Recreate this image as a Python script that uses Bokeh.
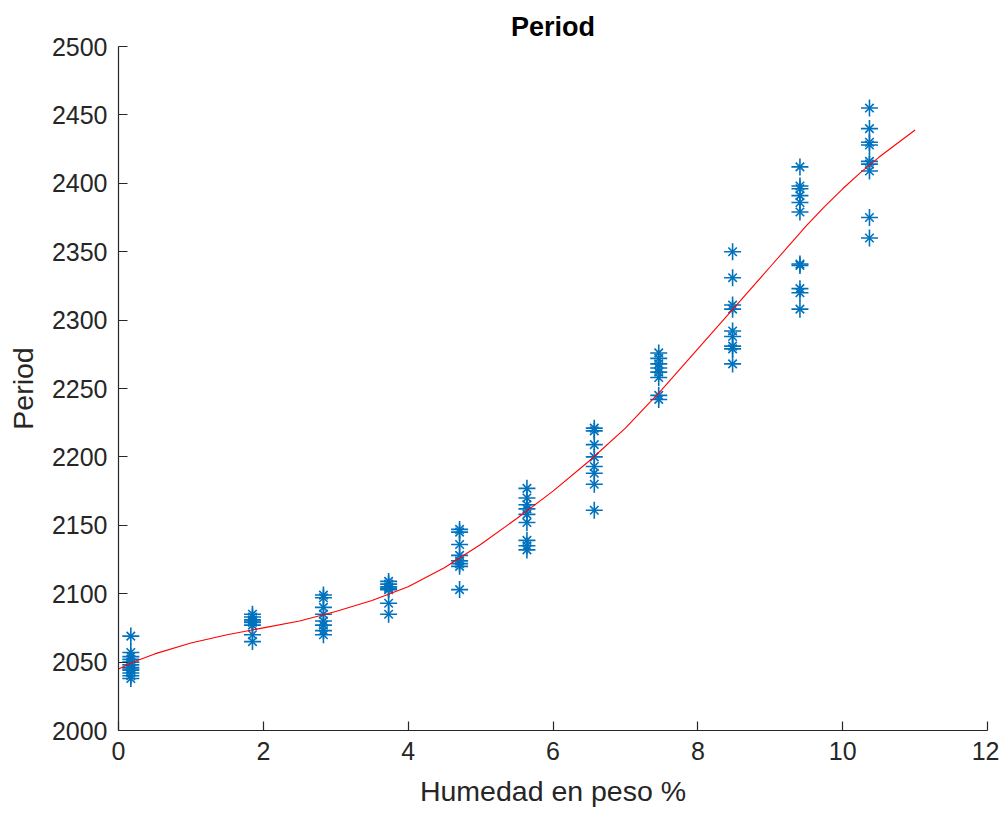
from bokeh.plotting import figure
from bokeh.embed import file_html
from bokeh.resources import INLINE
from bokeh.models import Range1d, FixedTicker

# Measured points (humidity %, period)
x_groups = [0.17, 1.85, 2.83, 3.73, 4.71, 5.64, 6.57, 7.46, 8.48, 9.41, 10.37]
y_groups = [
    [2069, 2057, 2054, 2052, 2050, 2048, 2046, 2044, 2042, 2040, 2038, 2045],
    [2085, 2083, 2081, 2080, 2079, 2077, 2070, 2065],
    [2099, 2097, 2090, 2085, 2080, 2077, 2073, 2070],
    [2109, 2107, 2105, 2104, 2103, 2093, 2085],
    [2147, 2145, 2136, 2128, 2124, 2122, 2120, 2103],
    [2177, 2170, 2165, 2162, 2158, 2152, 2139, 2135, 2132],
    [2221, 2219, 2209, 2200, 2193, 2188, 2180, 2161],
    [2276, 2272, 2268, 2265, 2262, 2258, 2245, 2242],
    [2350, 2331, 2311, 2308, 2292, 2288, 2281, 2279, 2268],
    [2412, 2398, 2396, 2391, 2386, 2379, 2341, 2340, 2323, 2320, 2308],
    [2455, 2440, 2430, 2428, 2416, 2414, 2409, 2375, 2360],
]

# Fitted curve
fit_x = [0, 0.25, 0.5, 1, 1.5, 2, 2.5, 3, 3.5, 4, 4.5, 5, 5.5, 6, 6.5, 7, 7.5, 8,
         8.5, 9, 9.5, 9.75, 10, 10.25, 10.5, 11]
fit_y = [2045, 2051, 2056, 2064, 2070, 2075, 2080, 2087, 2095, 2105, 2119, 2136,
         2155, 2175, 2197, 2221, 2249, 2279, 2309, 2339, 2369, 2383, 2396, 2408,
         2419, 2439]

x_ticks = [0, 2, 4, 6, 8, 10, 12]
y_ticks = [2000, 2050, 2100, 2150, 2200, 2250, 2300, 2350, 2400, 2450, 2500]

px, py = [], []
for xv, ys in zip(x_groups, y_groups):
    for yv in ys:
        px.append(xv)
        py.append(yv)

FONT = "Liberation Sans"
p = figure(width=999, height=812, output_backend="svg", toolbar_location=None,
           x_range=Range1d(0, 12), y_range=Range1d(2000, 2500),
           min_border_left=118, min_border_right=12, min_border_top=46, min_border_bottom=82,
           title="Period")
p.title.align = "center"
p.title.text_font = FONT
p.title.text_font_size = "27px"
p.title.text_font_style = "bold"
p.title.text_color = "#000000"
p.title.offset = 0

p.outline_line_color = None
p.xgrid.visible = False
p.ygrid.visible = False
p.background_fill_color = "white"
p.border_fill_color = "white"

for ax in (p.xaxis[0], p.yaxis[0]):
    ax.axis_line_color = "#262626"
    ax.axis_line_width = 1.2
    ax.major_tick_in = 9
    ax.major_tick_out = 0
    ax.minor_tick_in = 0
    ax.minor_tick_out = 0
    ax.major_tick_line_color = "#262626"
    ax.major_tick_line_width = 1.2
    ax.major_label_text_font = FONT
    ax.major_label_text_font_size = "25px"
    ax.major_label_text_color = "#262626"
    ax.axis_label_text_font = FONT
    ax.axis_label_text_font_size = "28.5px"
    ax.axis_label_text_font_style = "normal"
    ax.axis_label_text_color = "#262626"

p.xaxis.ticker = FixedTicker(ticks=x_ticks)
p.yaxis.ticker = FixedTicker(ticks=y_ticks)
p.xaxis.axis_label = "Humedad en peso %"
p.yaxis.axis_label = "Period"
p.xaxis.major_label_standoff = 11
p.yaxis.major_label_standoff = 11
p.xaxis.axis_label_standoff = 12
p.yaxis.axis_label_standoff = 10

blue = "#0072BD"
p.scatter(px, py, marker="cross", size=17, line_color=blue, line_width=1.6)
p.scatter(px, py, marker="x", size=12, line_color=blue, line_width=1.6)
p.line(fit_x, fit_y, line_color="#FF0000", line_width=1.1)

open("out.html", "w").write(file_html(p, INLINE))
